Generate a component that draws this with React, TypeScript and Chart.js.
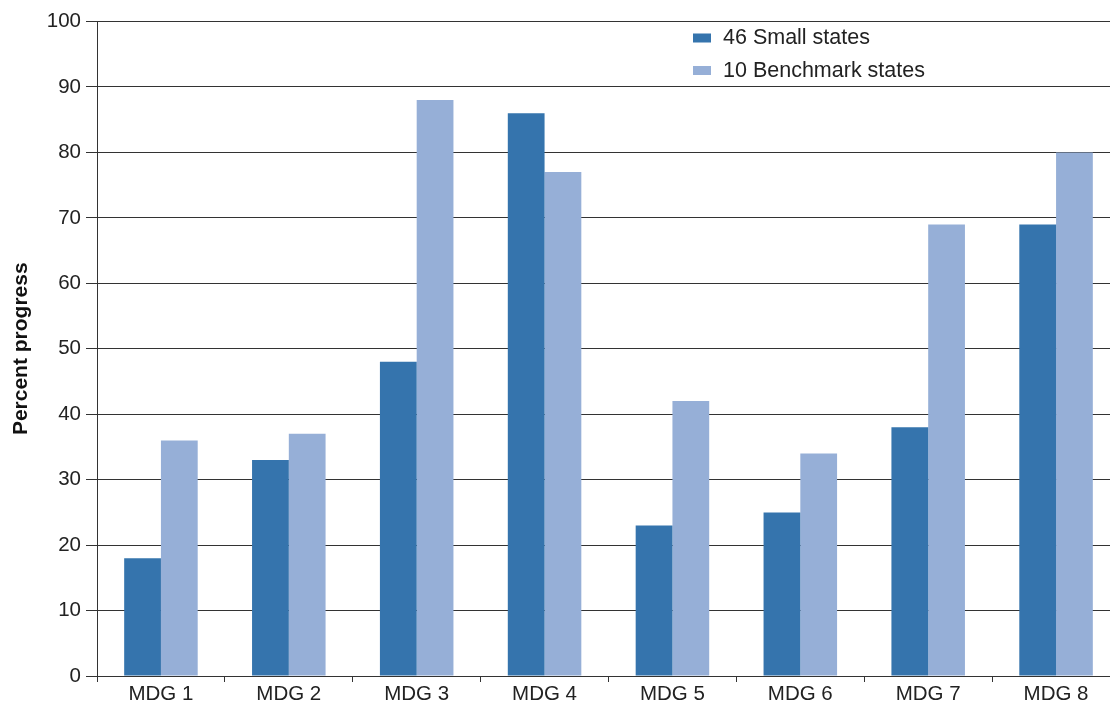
import React, { useEffect, useRef } from "react";
import { Chart, registerables } from "chart.js";

Chart.register(...registerables);

const categories = ["MDG 1", "MDG 2", "MDG 3", "MDG 4", "MDG 5", "MDG 6", "MDG 7", "MDG 8"];
const smallStates = [18, 33, 48, 86, 23, 25, 38, 69];
const benchmarkStates = [36, 37, 88, 77, 42, 34, 69, 80];
const seriesNames = ["46 Small states", "10 Benchmark states"];
const seriesColors = ["#3574ad", "#96afd7"];
const yTitle = "Percent progress";

const FONT = "'Liberation Sans', Arial, sans-serif";

const legendPlugin = {
  id: "customLegend",
  afterDraw(chart: any) {
    const ctx = chart.ctx;
    ctx.save();
    const x0 = 693;
    const ys = [38, 70.5];
    seriesNames.forEach((name, i) => {
      ctx.fillStyle = seriesColors[i];
      ctx.fillRect(x0, ys[i] - 4.5, 18, 9);
      ctx.fillStyle = "#222";
      ctx.font = `21.5px ${FONT}`;
      ctx.textBaseline = "middle";
      ctx.textAlign = "left";
      ctx.fillText(name, 723, ys[i] + 0.5);
    });
    ctx.restore();
  },
};

export default function App() {
  const ref = useRef<HTMLCanvasElement>(null);
  useEffect(() => {
    document.body.style.margin = "0";
    const chart = new Chart(ref.current!, {
      type: "bar",
      data: {
        labels: categories,
        datasets: [
          { label: seriesNames[0], data: smallStates, backgroundColor: seriesColors[0] },
          { label: seriesNames[1], data: benchmarkStates, backgroundColor: seriesColors[1] },
        ],
      },
      plugins: [legendPlugin],
      options: {
        animation: false,
        responsive: false,
        layout: { padding: { top: 21.5, right: 1, left: 0, bottom: 0 } },
        plugins: { legend: { display: false }, tooltip: { enabled: false } },
        datasets: { bar: { categoryPercentage: 0.575, barPercentage: 1 } },
        scales: {
          x: {
            grid: {
              drawOnChartArea: false,
              drawTicks: true,
              tickLength: 6,
              color: "#333",
              offset: true,
            },
            border: { color: "#333", width: 1 },
            ticks: { color: "#222", font: { family: FONT, size: 20.5 }, padding: 0 },
            afterFit(scale: any) {
              scale.height = 30;
            },
          },
          y: {
            min: 0,
            max: 100,
            ticks: { stepSize: 10, color: "#222", font: { family: FONT, size: 20.5 }, padding: 5 },
            grid: { color: "#333", lineWidth: 1, tickLength: 11 },
            border: { color: "#333", width: 1 },
            title: {
              display: true,
              text: yTitle,
              color: "#111",
              font: { family: FONT, size: 21, weight: "bold" },
              padding: { top: 9, bottom: 0 },
            },
            afterFit(scale: any) {
              scale.width = 97;
            },
          },
        },
      },
    } as any);
    return () => chart.destroy();
  }, []);
  return (
    <div style={{ position: "absolute", left: 0, top: 0, width: 1110, height: 706, overflow: "hidden" }}>
      <canvas ref={ref} width={1121} height={706} style={{ display: "block" }} />
    </div>
  );
}
